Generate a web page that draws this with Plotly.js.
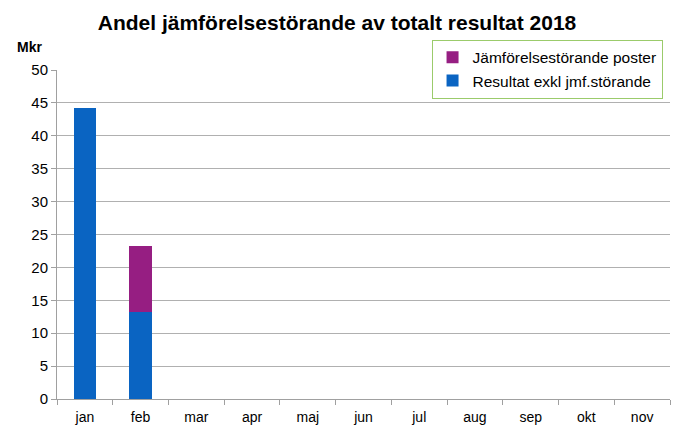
<!DOCTYPE html>
<html><head><meta charset="utf-8">
<script src="https://cdn.plot.ly/plotly-3.0.1.min.js"></script>
<style>html,body{margin:0;padding:0;background:#fff}#c{width:692px;height:441px}</style>
</head><body><div id="c"></div>
<script>
const months = ["jan","feb","mar","apr","maj","jun","jul","aug","sep","okt","nov"];
const resultatExkl = [44.2, 13.2, null, null, null, null, null, null, null, null, null];
const jmfStorande = [0, 10.0, null, null, null, null, null, null, null, null, null];
const traces = [
  {type:"bar", name:"Resultat exkl jmf.störande", x:months, y:resultatExkl, marker:{color:"#0A64C2"}},
  {type:"bar", name:"Jämförelsestörande poster", x:months, y:jmfStorande, marker:{color:"#961E82"}}
];
const layout = {
  width:692, height:441,
  margin:{l:57, r:22, t:70, b:42},
  barmode:"stack", bargap:0.6,
  paper_bgcolor:"#fff", plot_bgcolor:"#fff",
  font:{family:"Liberation Sans, Arial, sans-serif", size:14, color:"#000"},
  title:{text:"<b>Andel jämförelsestörande av totalt resultat 2018</b>", x:0.487, xanchor:"center", y:0.948, yanchor:"middle", font:{size:21, color:"#000"}},
  xaxis:{type:"category", tickson:"boundaries", ticks:"outside", ticklen:5, tickcolor:"#a0a0a0", showline:true, linecolor:"#a0a0a0", showgrid:false, tickfont:{size:14}, ticklabelstandoff:5},
  yaxis:{range:[0,50], dtick:5, ticks:"outside", ticklen:5, tickcolor:"#a0a0a0", showline:true, linecolor:"#a0a0a0", gridcolor:"#b0b0b0", zeroline:false, tickfont:{size:15}},
  showlegend:true,
  legend:{traceorder:"reversed", x:0.611, xanchor:"left", y:1.092, yanchor:"top", bgcolor:"rgba(0,0,0,0)", bordercolor:"#9BCB6B", borderwidth:1, font:{size:15.5}, itemwidth:30},
  annotations:[{text:"<b>Mkr</b>", xref:"paper", yref:"paper", x:-0.045, y:1.07, xanchor:"center", yanchor:"middle", showarrow:false, font:{size:14}}]
};
Plotly.newPlot("c", traces, layout, {displayModeBar:false});
</script></body></html>
